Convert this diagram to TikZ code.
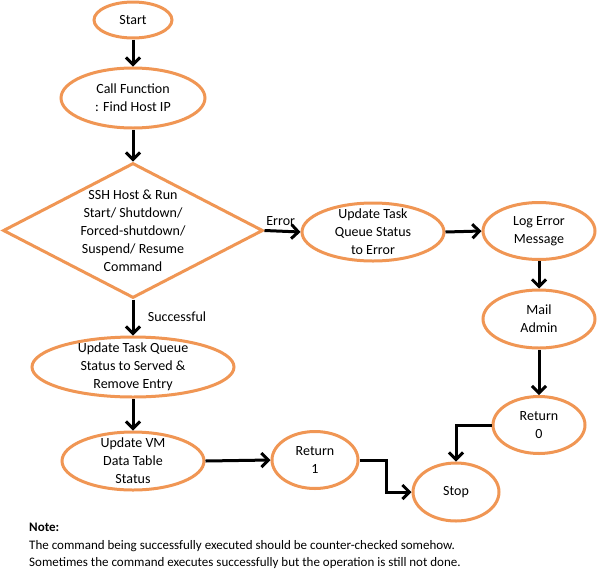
\documentclass[tikz,border=0pt]{standalone}
\usepackage{fontspec}
\setmainfont{Carlito}
\usetikzlibrary{shapes.geometric,arrows.meta}
\definecolor{flowor}{RGB}{240,150,84}
\begin{document}
\begin{tikzpicture}[x=1pt,y=-1pt,
  proc/.style={ellipse,draw=flowor,line width=3pt,inner sep=0pt,fill=white},
  decide/.style={diamond,draw=flowor,line width=3pt,inner sep=0pt,fill=white},
  lbl/.style={align=center,font=\fontsize{14}{18}\selectfont,inner sep=0pt},
  flow/.style={draw=black,line width=3pt,-{Straight Barb[length=7pt,width=14pt]}},
  note/.style={align=left,font=\fontsize{13}{17.5}\selectfont,inner sep=0pt}
]
\useasboundingbox (0,0) rectangle (597,579);

% shapes
\node[proc,minimum width=78,minimum height=36] (start) at (133,20) {};
\node[proc,minimum width=144,minimum height=60] (call) at (133,98) {};
\node[decide,minimum width=260,minimum height=135] (ssh) at (133,230.5) {};
\node[proc,minimum width=142,minimum height=58] (qerr) at (373,232) {};
\node[proc,minimum width=112,minimum height=57] (log) at (539,231) {};
\node[proc,minimum width=112,minimum height=58] (mail) at (539,319) {};
\node[proc,minimum width=92,minimum height=57] (ret0) at (539,425) {};
\node[proc,minimum width=202,minimum height=60] (qok) at (133,367) {};
\node[proc,minimum width=142,minimum height=58] (vm) at (133,461) {};
\node[proc,minimum width=86,minimum height=57] (ret1) at (315,460) {};
\node[proc,minimum width=86,minimum height=58] (stop) at (456,492) {};

% texts
\node[lbl] (startT) at (start) {Start};
\node[lbl] (callT) at (call) {Call Function\\: Find Host IP};
\node[lbl] (sshT) at (ssh) {SSH Host \& Run\\Start/ Shutdown/\\Forced-shutdown/\\Suspend/ Resume\\Command};
\node[lbl] (qerrT) at (qerr) {Update Task\\Queue Status\\to Error};
\node[lbl] (logT) at (log) {Log Error\\Message};
\node[lbl] (mailT) at (mail) {Mail\\Admin};
\node[lbl] (ret0T) at (ret0) {Return\\0};
\node[lbl] (qokT) at (qok) {Update Task Queue\\Status to Served \&\\Remove Entry};
\node[lbl] (vmT) at (vm) {Update VM\\Data Table\\Status};
\node[lbl] (ret1T) at (ret1) {Return\\1};
\node[lbl] (stopT) at (stop) {Stop};

% connectors
\draw[flow] (start.south) -- (call.north);
\draw[flow] (call.south) -- (ssh.north);
\draw[flow] (ssh.east) -- node[lbl,above=4pt,pos=0.45] (errL) {Error} (qerr.west);
\draw[flow] (qerr.east) -- (log.west);
\draw[flow] (log.south) -- (mail.north);
\draw[flow] (mail.south) -- (ret0.north);
\draw[flow] (ret0.west) -| (stop.north);
\draw[flow] (ssh.south) -- (qok.north);
\node[lbl] (okL) at (177,317) {Successful};
\draw[flow] (qok.south) -- (vm.north);
\draw[flow] (vm.east) -- (ret1.west);
\draw[flow] (ret1.east) -- ++(27,0) |- (stop.west);

% remark below the chart
\node[note,anchor=west] (remark) at (29,546) {\textbf{Note:}\\The command being successfully executed should be counter-checked somehow.\\Sometimes the command executes successfully but the operation is still not done.};
\end{tikzpicture}
\end{document}
